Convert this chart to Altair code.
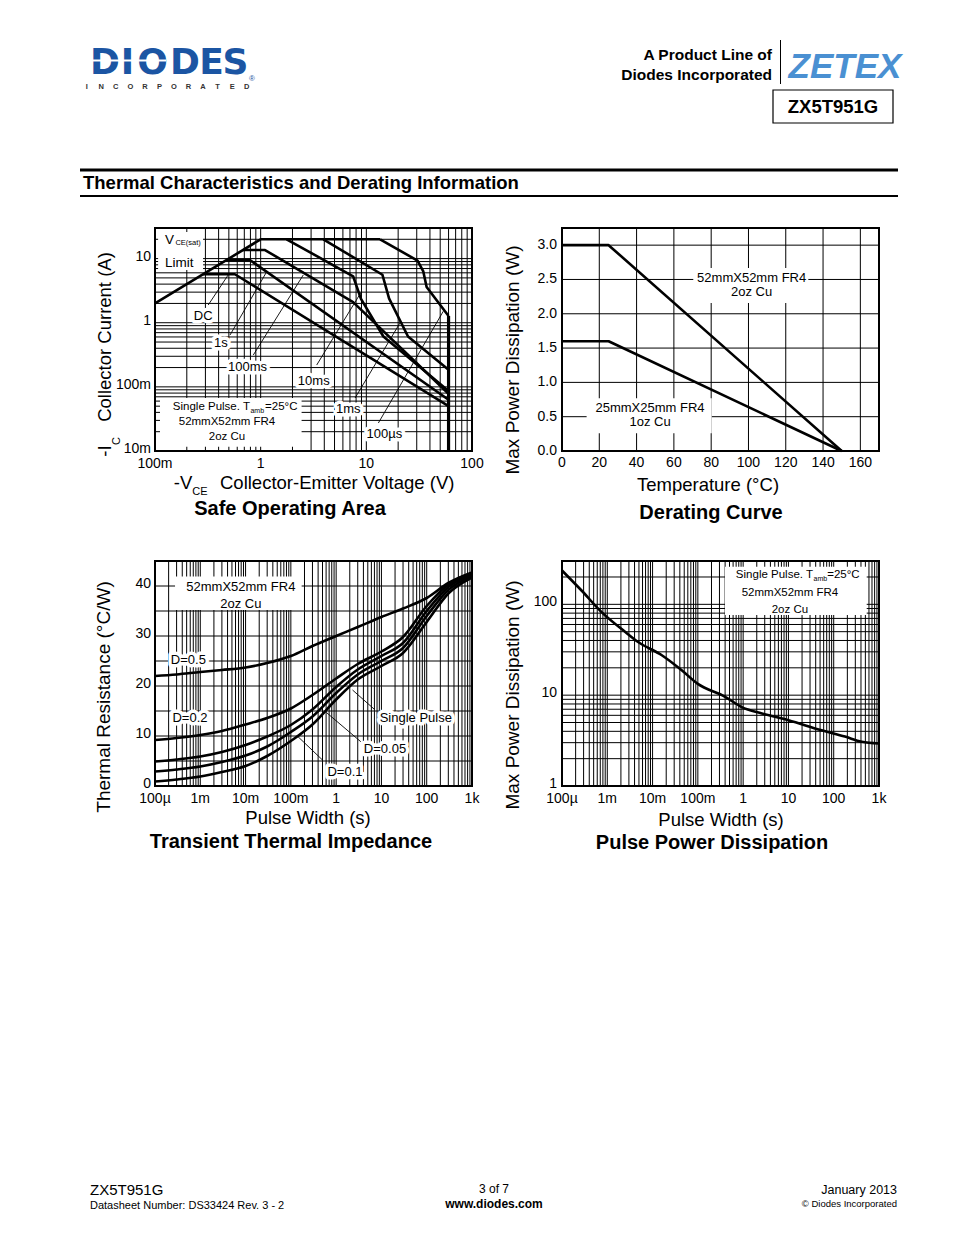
import altair as alt
import pandas as pd

FONT = "Liberation Sans, Arial, Helvetica, sans-serif"
OFF = 8  # page margin

# ---------------- Safe Operating Area  (-Vce [V], -Ic [A]) ----------------
SOA_SAT_V = [0.1, 1.0, 13.5]
SOA_SAT_I = [2.0, 20.0, 20.0]
SOA_DC_V = [0.285, 0.57, 60.0]
SOA_DC_I = [5.7, 5.7, 0.05]
SOA_1S_V = [0.475, 0.79, 60.0]
SOA_1S_I = [9.5, 9.5, 0.063]
SOA_100MS_V = [0.68, 1.1, 7.5, 60.0]
SOA_100MS_I = [13.6, 13.6, 2.1, 0.078]
SOA_10MS_V = [1.76, 7.5, 8.9, 14.5, 60.0]
SOA_10MS_I = [20.0, 5.3, 2.35, 0.61, 0.086]
SOA_1MS_V = [3.92, 14.2, 16.4, 24.8, 60.0]
SOA_1MS_I = [20.0, 5.6, 2.4, 0.61, 0.185]
SOA_100US_V = [13.5, 30.5, 34.6, 37.2, 60.0]
SOA_100US_I = [20.0, 9.3, 6.3, 3.6, 1.27]
SOA_BV_V = [60.0, 60.0]
SOA_BV_I = [1.27, 0.01]
SOA_XTICKS = [0.1, 1, 10, 100]
SOA_XLABELS = ["100m", "1", "10", "100"]
SOA_YTICKS = [0.01, 0.1, 1, 10]
SOA_YLABELS = ["10m", "100m", "1", "10"]

# ---------------- Derating curve ----------------
DER_T = [0, 25, 150]
DER_P_52 = [3.0, 3.0, 0.0]
DER_P_25 = [1.6, 1.6, 0.0]
DER_XTICKS = [0, 20, 40, 60, 80, 100, 120, 140, 160]
DER_YTICKS = [0.0, 0.5, 1.0, 1.5, 2.0, 2.5, 3.0]

# ---------------- Transient thermal impedance ----------------
TR_T = [1e-4, 3e-4, 1e-3, 3e-3, 1e-2, 3e-2, 0.1, 0.3, 1, 3, 10, 30, 100, 300, 1000]
TR_D05 = [22.0, 22.3, 22.8, 23.2, 23.7, 24.6, 26.0, 28.0, 30.0, 31.8, 33.8, 35.5, 37.6, 40.6, 42.7]
TR_D02 = [9.2, 9.6, 10.2, 11.0, 12.3, 13.6, 15.5, 18.2, 21.5, 24.4, 26.9, 29.8, 36.0, 40.3, 42.6]
TR_D01 = [4.9, 5.3, 5.9, 6.8, 8.2, 9.9, 12.2, 15.3, 19.8, 23.3, 26.0, 28.6, 35.0, 39.8, 42.3]
TR_D005 = [2.9, 3.3, 3.9, 4.8, 6.1, 7.9, 10.8, 13.9, 18.6, 22.3, 25.0, 27.6, 34.0, 39.2, 42.0]
TR_SP = [0.9, 1.3, 1.9, 2.8, 4.0, 6.0, 9.0, 12.3, 17.3, 21.3, 24.0, 26.6, 32.8, 38.5, 41.7]
TR_YTICKS = [0, 10, 20, 30, 40]
PW_XTICKS = [1e-4, 1e-3, 1e-2, 0.1, 1, 10, 100, 1000]
PW_XLABELS = ["100µ", "1m", "10m", "100m", "1", "10", "100", "1k"]

# ---------------- Pulse power dissipation ----------------
PP_T = [1e-4, 2.7e-4, 7.5e-4, 2.5e-3, 4.8e-3, 1.6e-2, 4.4e-2, 0.098, 0.4, 0.93, 2.6, 10, 54, 177, 414, 1000]
PP_P = [236, 142, 82, 49.6, 38.5, 27.5, 18.8, 13.4, 9.6, 7.4, 6.3, 5.3, 4.1, 3.5, 3.07, 2.94]
PP_YTICKS = [1, 10, 100]
PP_YLABELS = ["1", "10", "100"]

# grid positions
SOA_XGRID = [k * 10.0 ** n for n in (-1, 0, 1) for k in range(2, 10)] + [1, 10]
SOA_YGRID = [k * 10.0 ** n for n in (-2, -1, 0) for k in range(2, 10)] + [0.1, 1, 10, 20]
DER_XGRID = [20, 40, 60, 80, 100, 120, 140, 160]
DER_YGRID = [0.5, 1.0, 1.5, 2.0, 2.5, 3.0]
PW_XGRID = [k * 10.0 ** n for n in range(-4, 3) for k in range(1, 10)][1:]
TR_YGRID = [5, 10, 15, 20, 25, 30, 35, 40]
PP_YGRID = [2, 3, 4, 5, 6, 7, 8, 9, 10, 20, 30, 40, 50, 60, 70, 80, 90, 100, 200]

DUMMY = pd.DataFrame({"d": [0]})


def S(kind, domain, rng):
    if kind == "log":
        return alt.Scale(type="log", domain=domain, range=[r - OFF for r in rng], nice=False)
    return alt.Scale(type="linear", domain=domain, range=[r - OFF for r in rng], nice=False, zero=False)


SOA_X = S("log", [0.1, 100], [155, 472])
SOA_Y = S("log", [0.01, 30], [451, 228])
DER_X = S("lin", [0, 170], [562, 879])
DER_Y = S("lin", [0, 3.25], [451, 228])
TR_X = S("log", [1e-4, 1e3], [155, 472])
TR_Y = S("lin", [0, 45], [786, 561])
PP_X = S("log", [1e-4, 1e3], [562, 879])
PP_Y = S("log", [1, 300], [786, 561])


def ex(f, s):
    return alt.X(f, scale=s, axis=None)


def ey(f, s):
    return alt.Y(f, scale=s, axis=None)


layers = []


def add(c):
    if isinstance(c, list):
        layers.extend(c)
    else:
        layers.append(c)


def ptext(s, x, y, size=14, weight="normal", align="center", angle=0, color="black",
          font=FONT, baseline="middle", style="normal"):
    return alt.Chart(DUMMY).mark_text(
        text=s, fontSize=size, fontWeight=weight, align=align, baseline=baseline,
        angle=angle, color=color, font=font, fontStyle=style
    ).encode(x=alt.value(x - OFF), y=alt.value(y - OFF))


def prule(x, y, x2, y2, w=1.0, color="black"):
    return alt.Chart(DUMMY).mark_rule(strokeWidth=w, color=color).encode(
        x=alt.value(x - OFF), y=alt.value(y - OFF), x2=alt.value(x2 - OFF), y2=alt.value(y2 - OFF))


def prect(x0, x1, y0, y1, w=1.0):
    return alt.Chart(DUMMY).mark_rect(fill="white", fillOpacity=0, stroke="black", strokeWidth=w).encode(
        x=alt.value(x0 - OFF), x2=alt.value(x1 - OFF), y=alt.value(y0 - OFF), y2=alt.value(y1 - OFF))


def vgrid(vals, SX, y0, y1, w=1.0):
    return alt.Chart(pd.DataFrame({"v": vals})).mark_rule(color="black", strokeWidth=w).encode(
        x=ex("v:Q", SX), y=alt.value(y0 - OFF), y2=alt.value(y1 - OFF))


def hgrid(vals, SY, x0, x1, w=1.0):
    return alt.Chart(pd.DataFrame({"v": vals})).mark_rule(color="black", strokeWidth=w).encode(
        y=ey("v:Q", SY), x=alt.value(x0 - OFF), x2=alt.value(x1 - OFF))


def curves(series, SX, SY, w=2.6, interp="linear"):
    rows = []
    for name, (xs, ys) in series.items():
        for k, (a, b) in enumerate(zip(xs, ys)):
            rows.append({"x": a, "y": b, "s": name, "o": k})
    return alt.Chart(pd.DataFrame(rows)).mark_line(
        color="black", strokeWidth=w, interpolate=interp, strokeJoin="round"
    ).encode(x=ex("x:Q", SX), y=ey("y:Q", SY), detail="s:N", order="o:Q")


def leaders(segs, SX, SY):
    df = pd.DataFrame(segs, columns=["xa", "ya", "xb", "yb"])
    return alt.Chart(df).mark_rule(color="black", strokeWidth=0.9).encode(
        x=ex("xa:Q", SX), y=ey("ya:Q", SY), x2=alt.X2("xb"), y2=alt.Y2("yb"))


def wbox(x0, x1, y0, y1, SX, SY):
    df = pd.DataFrame({"a": [x0], "b": [x1], "c": [y0], "d": [y1]})
    return alt.Chart(df).mark_rect(fill="white").encode(
        x=ex("a:Q", SX), x2=alt.X2("b"), y=ey("c:Q", SY), y2=alt.Y2("d"))


def dlabel(s, xv, yv, SX, SY, size=13, align="center", halo=True):
    base = alt.Chart(pd.DataFrame({"x": [xv], "y": [yv]})).encode(x=ex("x:Q", SX), y=ey("y:Q", SY))
    kw = dict(text=s, fontSize=size, font=FONT, align=align, baseline="middle")
    out = []
    if halo:
        out.append(base.mark_text(stroke="white", strokeWidth=7, fill="white", strokeJoin="round", **kw))
    out.append(base.mark_text(color="black", **kw))
    return out


def xticks(vals, labels, SX, y):
    return alt.Chart(pd.DataFrame({"v": vals, "t": labels})).mark_text(
        fontSize=14, font=FONT, align="center", baseline="middle", color="black"
    ).encode(x=ex("v:Q", SX), y=alt.value(y - OFF), text="t:N")


def yticks(vals, labels, SY, x, dy=0):
    return alt.Chart(pd.DataFrame({"v": vals, "t": labels})).mark_text(
        fontSize=14, font=FONT, align="right", baseline="middle", color="black", dy=dy
    ).encode(y=ey("v:Q", SY), x=alt.value(x - OFF), text="t:N")


# =============== HEADER ===============
BLUE = "#1b55a3"
for ch, cx in zip("DIODES", [105, 127.5, 152.5, 185, 211.5, 235.5]):
    add(ptext(ch, cx, 74, size=36, weight="bold", font="DejaVu Sans", color=BLUE, baseline="alphabetic"))
add(prule(92, 60.5, 166, 60.5, w=2.2, color="white"))
add(ptext("®", 252, 79, size=8, color=BLUE))
add(alt.Chart(pd.DataFrame({"i": list(range(12)), "c": list("INCORPORATED")})).mark_text(
    fontSize=7.5, fontWeight="bold", font=FONT, color="#333333", baseline="middle"
).encode(x=alt.X("i:Q", scale=alt.Scale(domain=[0, 11], range=[86.7 - OFF, 246.7 - OFF]), axis=None),
         y=alt.value(87.3 - OFF), text="c:N"))

add(ptext("A Product Line of", 772, 55, size=15.5, weight="bold", align="right"))
add(ptext("Diodes Incorporated", 772, 75, size=15.5, weight="bold", align="right"))
add(prule(780.5, 40, 780.5, 84, w=1))
add(ptext("ZETEX", 845, 78, size=35, weight="bold", style="italic", color="#4a90d2",
          baseline="alphabetic"))
add(prect(773, 893, 90, 123, w=1.2))
add(ptext("ZX5T951G", 833, 107, size=18.5, weight="bold"))

add(prule(80, 170, 898, 170, w=3))
add(ptext("Thermal Characteristics and Derating Information", 83, 183, size=18.5, weight="bold", align="left"))
add(prule(80, 196, 898, 196, w=2))

# =============== SAFE OPERATING AREA ===============
add(vgrid(SOA_XGRID, SOA_X, 228, 451))
add(hgrid(SOA_YGRID, SOA_Y, 155, 472))
add(wbox(0.107, 0.285, 25.9, 6.64, SOA_X, SOA_Y))
add(wbox(0.1115, 2.44, 0.067, 0.0117, SOA_X, SOA_Y))
add(leaders([
    (0.319, 1.89, 0.494, 5.6),
    (0.513, 0.644, 1.14, 6.24),
    (0.852, 0.314, 2.53, 5.55),
    (3.39, 0.219, 9.04, 3.09),
    (7.82, 0.067, 20.8, 0.99),
    (13.0, 0.0273, 53.5, 1.51),
], SOA_X, SOA_Y))
add(curves({
    "sat": (SOA_SAT_V, SOA_SAT_I), "dc": (SOA_DC_V, SOA_DC_I), "1s": (SOA_1S_V, SOA_1S_I),
    "100ms": (SOA_100MS_V, SOA_100MS_I), "10ms": (SOA_10MS_V, SOA_10MS_I),
    "1ms": (SOA_1MS_V, SOA_1MS_I), "100us": (SOA_100US_V, SOA_100US_I),
}, SOA_X, SOA_Y))
add(curves({"bv": (SOA_BV_V, SOA_BV_I)}, SOA_X, SOA_Y, w=3.2))
add(prect(155, 472, 228, 451, w=2))
add(dlabel("V", 0.1245, 19.3, SOA_X, SOA_Y, size=13.5, align="left", halo=False))
add(dlabel("CE(sat)", 0.156, 17.8, SOA_X, SOA_Y, size=7.5, align="left", halo=False))
add(dlabel("Limit", 0.1245, 8.43, SOA_X, SOA_Y, size=13.5, align="left", halo=False))
add(dlabel("DC", 0.286, 1.29, SOA_X, SOA_Y))
add(dlabel("1s", 0.42, 0.487, SOA_X, SOA_Y))
add(dlabel("100ms", 0.75, 0.206, SOA_X, SOA_Y))
add(dlabel("10ms", 3.18, 0.124, SOA_X, SOA_Y))
add(dlabel("1ms", 6.75, 0.0449, SOA_X, SOA_Y))
add(dlabel("100µs", 14.8, 0.0183, SOA_X, SOA_Y))
add(dlabel("Single Pulse. T", 0.792, 0.0486, SOA_X, SOA_Y, size=11.5, align="right", halo=False))
add(dlabel("amb", 0.8, 0.042, SOA_X, SOA_Y, size=7, align="left", halo=False))
add(dlabel("=25°C", 1.10, 0.0486, SOA_X, SOA_Y, size=11.5, align="left", halo=False))
add(dlabel("52mmX52mm FR4", 0.48, 0.0283, SOA_X, SOA_Y, size=11.5, halo=False))
add(dlabel("2oz Cu", 0.48, 0.0165, SOA_X, SOA_Y, size=11.5, halo=False))
add(xticks(SOA_XTICKS, SOA_XLABELS, SOA_X, 464))
add(yticks(SOA_YTICKS, SOA_YLABELS, SOA_Y, 151, dy=-2))
add(ptext("Collector Current (A)", 105, 337, size=18.5, angle=270))
add(ptext("-I", 105, 451, size=18.5, angle=270))
add(ptext("C", 117, 441, size=11, angle=270))
add(ptext("-V", 183, 483, size=18.5))
add(ptext("CE", 200, 492, size=11))
add(ptext("Collector-Emitter Voltage (V)", 220, 483, size=18.5, align="left"))
add(ptext("Safe Operating Area", 290, 509, size=20, weight="bold"))

# =============== DERATING CURVE ===============
add(vgrid(DER_XGRID, DER_X, 228, 451))
add(hgrid(DER_YGRID, DER_Y, 562, 879))
add(wbox(70.4, 132.1, 2.667, 2.157, DER_X, DER_Y))
add(wbox(13.2, 80.3, 0.768, 0.258, DER_X, DER_Y))
add(curves({"52": (DER_T, DER_P_52), "25": (DER_T, DER_P_25)}, DER_X, DER_Y))
add(prect(562, 879, 228, 451, w=2))
add(dlabel("52mmX52mm FR4", 101.7, 2.517, DER_X, DER_Y, halo=False))
add(dlabel("2oz Cu", 101.7, 2.32, DER_X, DER_Y, halo=False))
add(dlabel("25mmX25mm FR4", 47.2, 0.622, DER_X, DER_Y, halo=False))
add(dlabel("1oz Cu", 47.2, 0.418, DER_X, DER_Y, halo=False))
add(xticks(DER_XTICKS, [str(v) for v in DER_XTICKS], DER_X, 463))
add(yticks(DER_YTICKS, ["%.1f" % v for v in DER_YTICKS], DER_Y, 557))
add(ptext("Max Power Dissipation (W)", 513, 360, size=19, angle=270))
add(ptext("Temperature (°C)", 708, 485, size=18.5))
add(ptext("Derating Curve", 711, 513, size=20, weight="bold"))

# =============== TRANSIENT THERMAL IMPEDANCE ===============
add(vgrid(PW_XGRID, TR_X, 561, 786))
add(hgrid(TR_YGRID, TR_Y, 155, 472))
add(wbox(2.77e-4, 0.173, 41.9, 35.2, TR_X, TR_Y))
add(leaders([
    (0.144, 9.86, 0.5, 5.2),
    (0.61, 14.7, 3.5, 8.86),
    (2.3, 19.2, 6.86, 15.4),
], TR_X, TR_Y))
add(curves({
    "d05": (TR_T, TR_D05), "d02": (TR_T, TR_D02), "d01": (TR_T, TR_D01),
    "d005": (TR_T, TR_D005), "sp": (TR_T, TR_SP),
}, TR_X, TR_Y, interp="monotone"))
add(prect(155, 472, 561, 786, w=2))
add(dlabel("52mmX52mm FR4", 7.85e-3, 39.9, TR_X, TR_Y, halo=False))
add(dlabel("2oz Cu", 7.85e-3, 36.5, TR_X, TR_Y, halo=False))
add(dlabel("D=0.5", 5.45e-4, 25.2, TR_X, TR_Y))
add(dlabel("D=0.2", 5.93e-4, 13.7, TR_X, TR_Y))
add(dlabel("Single Pulse", 57.4, 13.7, TR_X, TR_Y))
add(dlabel("D=0.05", 12.0, 7.5, TR_X, TR_Y))
add(dlabel("D=0.1", 1.57, 2.87, TR_X, TR_Y))
add(xticks(PW_XTICKS, PW_XLABELS, TR_X, 799))
add(yticks(TR_YTICKS, [str(v) for v in TR_YTICKS], TR_Y, 151, dy=-2))
add(ptext("Thermal Resistance (°C/W)", 104, 697, size=19, angle=270))
add(ptext("Pulse Width (s)", 308, 818, size=18.5))
add(ptext("Transient Thermal Impedance", 291, 842, size=20, weight="bold"))

# =============== PULSE POWER DISSIPATION ===============
add(vgrid(PW_XGRID, PP_X, 561, 786))
add(hgrid(PP_YGRID, PP_Y, 562, 879))
add(wbox(0.397, 535, 260, 76.4, PP_X, PP_Y))
add(curves({"pp": (PP_T, PP_P)}, PP_X, PP_Y, interp="monotone"))
add(prect(562, 879, 561, 786, w=2))
add(dlabel("Single Pulse. T", 34.9, 210, PP_X, PP_Y, size=11.5, align="right", halo=False))
add(dlabel("amb", 35.8, 190, PP_X, PP_Y, size=7, align="left", halo=False))
add(dlabel("=25°C", 72.0, 210, PP_X, PP_Y, size=11.5, align="left", halo=False))
add(dlabel("52mmX52mm FR4", 10.8, 132, PP_X, PP_Y, size=11.5, halo=False))
add(dlabel("2oz Cu", 10.8, 86.7, PP_X, PP_Y, size=11.5, halo=False))
add(xticks(PW_XTICKS, PW_XLABELS, PP_X, 799))
add(yticks(PP_YTICKS, PP_YLABELS, PP_Y, 557, dy=-2))
add(ptext("Max Power Dissipation (W)", 513, 695, size=19, angle=270))
add(ptext("Pulse Width (s)", 721, 820, size=18.5))
add(ptext("Pulse Power Dissipation", 712, 843, size=20, weight="bold"))

# =============== FOOTER ===============
add(ptext("ZX5T951G", 90, 1190, size=15, align="left"))
add(ptext("Datasheet Number: DS33424 Rev. 3 - 2", 90, 1206, size=11, align="left"))
add(ptext("3 of 7", 494, 1189, size=12))
add(ptext("www.diodes.com", 494, 1204, size=12, weight="bold"))
add(ptext("January 2013", 897, 1190, size=12.5, align="right"))
add(ptext("© Diodes Incorporated", 897, 1204, size=9.5, align="right"))

chart = alt.layer(*layers).resolve_scale(x="independent", y="independent").properties(
    width=938, height=1219, padding=0, background="white"
).configure_view(strokeWidth=0)

chart.save("out.html", embed_options={"renderer": "svg", "actions": False})
